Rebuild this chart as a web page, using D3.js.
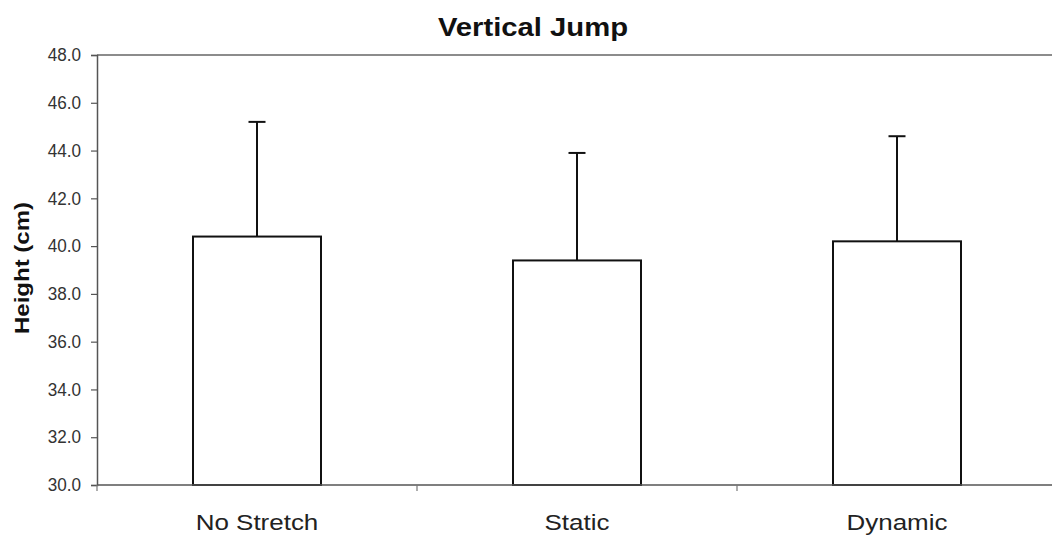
<!DOCTYPE html>
<html>
<head>
<meta charset="utf-8">
<script src="https://cdn.jsdelivr.net/npm/d3@7"></script>
<style>
  body { margin: 0; background: #fff; }
  text { font-family: "Liberation Sans", Arial, sans-serif; }
</style>
</head>
<body>
<div id="chart"></div>
<script>
// data
const categories = ["No Stretch", "Static", "Dynamic"];
const means = [40.4, 39.4, 40.2];
const sds = [4.8, 4.5, 4.4];
const yTicks = [30, 32, 34, 36, 38, 40, 42, 44, 46, 48];

const W = 1052, H = 541;
const margin = { left: 97, top: 55, right: -5, bottom: 56 };

const svg = d3.select("#chart").append("svg")
  .attr("width", W).attr("height", H);

const x = d3.scaleBand()
  .domain(categories)
  .range([margin.left, W - margin.right])
  .paddingInner(0.6).paddingOuter(0.3);

// full-category band, for the tick marks between categories
const xCat = d3.scaleBand().domain(categories).range([margin.left, W - margin.right]);

const y = d3.scaleLinear().domain([30, 48]).range([H - margin.bottom, margin.top]);

// the source font is wider than Arial, so stretch labels to the measured width
const stretch = (sel, ratio) => sel.each(function () {
  const len = this.getComputedTextLength();
  d3.select(this).attr("textLength", len * ratio).attr("lengthAdjust", "spacingAndGlyphs");
});

// top border of plot area
svg.append("line")
  .attr("x1", margin.left).attr("x2", W - margin.right)
  .attr("y1", y(48)).attr("y2", y(48))
  .attr("stroke", "#666").attr("stroke-width", 1.5);

const data = categories.map((c, i) => ({ cat: c, mean: means[i], sd: sds[i] }));

const g = svg.append("g");

// error bars (upper only)
g.selectAll(".err").data(data).enter().append("line")
  .attr("x1", d => x(d.cat) + x.bandwidth() / 2)
  .attr("x2", d => x(d.cat) + x.bandwidth() / 2)
  .attr("y1", d => y(d.mean))
  .attr("y2", d => y(d.mean + d.sd))
  .attr("stroke", "#111").attr("stroke-width", 2);

g.selectAll(".cap").data(data).enter().append("line")
  .attr("x1", d => x(d.cat) + x.bandwidth() / 2 - 8.5)
  .attr("x2", d => x(d.cat) + x.bandwidth() / 2 + 8.5)
  .attr("y1", d => y(d.mean + d.sd))
  .attr("y2", d => y(d.mean + d.sd))
  .attr("stroke", "#111").attr("stroke-width", 2);

// bars
g.selectAll(".bar").data(data).enter().append("rect")
  .attr("x", d => x(d.cat))
  .attr("y", d => y(d.mean))
  .attr("width", x.bandwidth())
  .attr("height", d => y(30) - y(d.mean))
  .attr("fill", "#fff")
  .attr("stroke", "#111").attr("stroke-width", 2);

// y axis
const yAxis = svg.append("g")
  .attr("transform", `translate(${margin.left},0)`)
  .attr("font-size", 18)
  .call(d3.axisLeft(y).tickValues(yTicks).tickFormat(d3.format(".1f")).tickSizeOuter(0).tickSize(6).tickPadding(10));
yAxis.select(".domain").attr("stroke", "#555").attr("stroke-width", 1.5);
yAxis.selectAll(".tick line").attr("stroke", "#555").attr("stroke-width", 1.2);
yAxis.selectAll(".tick text").attr("font-size", 18).attr("fill", "#333")
  .attr("font-family", "'Liberation Sans', Arial, sans-serif")
  .call(stretch, 0.95);

// x axis
const xAxisY = y(30);
const xAxis = svg.append("g").attr("transform", `translate(0,${xAxisY})`);
xAxis.append("line")
  .attr("x1", margin.left).attr("x2", W - margin.right)
  .attr("stroke", "#555").attr("stroke-width", 1.5);
xAxis.selectAll(".xtick").data(categories.concat(["_end"])).enter().append("line")
  .attr("x1", (d, i) => margin.left + i * xCat.bandwidth())
  .attr("x2", (d, i) => margin.left + i * xCat.bandwidth())
  .attr("y1", 0).attr("y2", 6)
  .attr("stroke", "#777").attr("stroke-width", 1.2);
xAxis.selectAll(".xlab").data(categories).enter().append("text")
  .attr("x", d => x(d) + x.bandwidth() / 2)
  .attr("y", 45)
  .attr("text-anchor", "middle")
  .attr("font-size", 22).attr("fill", "#222")
  .text(d => d)
  .call(stretch, 1.18);

// title
svg.append("text")
  .attr("x", 533).attr("y", 36)
  .attr("text-anchor", "middle")
  .attr("font-size", 25).attr("font-weight", "bold").attr("fill", "#111")
  .text("Vertical Jump")
  .call(stretch, 1.17);

// y axis title
svg.append("text")
  .attr("transform", `translate(29,268) rotate(-90)`)
  .attr("text-anchor", "middle")
  .attr("font-size", 20).attr("font-weight", "bold").attr("fill", "#111")
  .text("Height (cm)")
  .call(stretch, 1.2);
</script>
</body>
</html>
